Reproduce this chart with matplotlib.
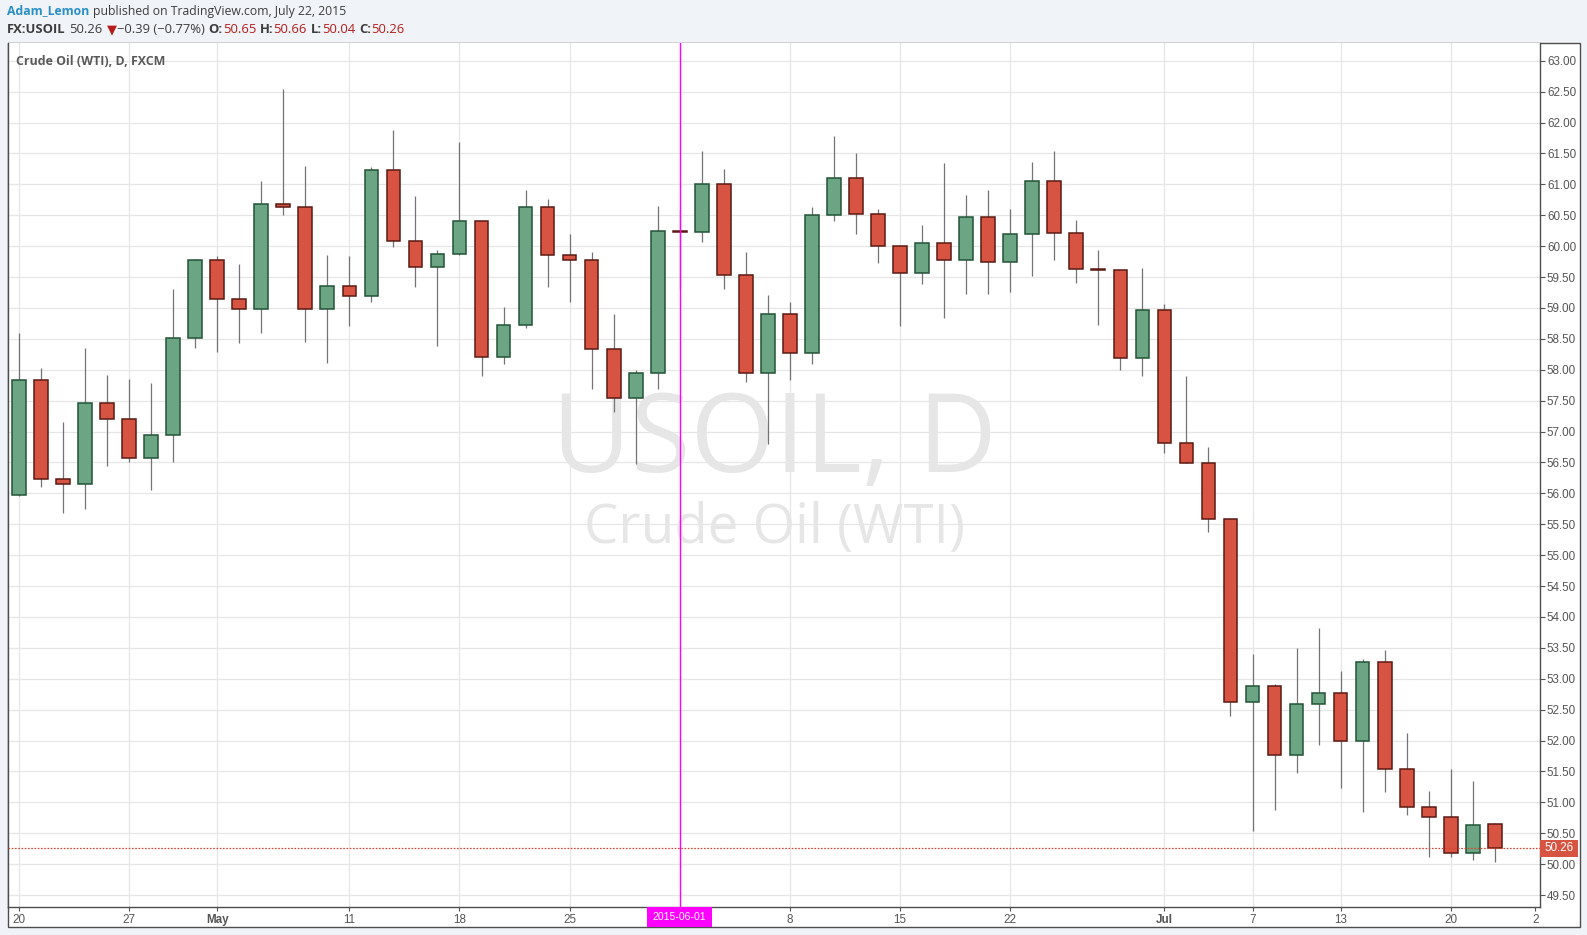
import matplotlib
matplotlib.use('Agg')
import matplotlib.pyplot as plt
from matplotlib.patches import Rectangle
from matplotlib import transforms

# ---------------- data ----------------
dates = ['2015-04-20', '2015-04-21', '2015-04-22', '2015-04-23', '2015-04-24',
         '2015-04-27', '2015-04-28', '2015-04-29', '2015-04-30', '2015-05-01',
         '2015-05-04', '2015-05-05', '2015-05-06', '2015-05-07', '2015-05-08',
         '2015-05-11', '2015-05-12', '2015-05-13', '2015-05-14', '2015-05-15',
         '2015-05-18', '2015-05-19', '2015-05-20', '2015-05-21', '2015-05-22',
         '2015-05-25', '2015-05-26', '2015-05-27', '2015-05-28', '2015-05-29',
         '2015-06-01', '2015-06-02', '2015-06-03', '2015-06-04', '2015-06-05',
         '2015-06-08', '2015-06-09', '2015-06-10', '2015-06-11', '2015-06-12',
         '2015-06-15', '2015-06-16', '2015-06-17', '2015-06-18', '2015-06-19',
         '2015-06-22', '2015-06-23', '2015-06-24', '2015-06-25', '2015-06-26',
         '2015-06-29', '2015-06-30', '2015-07-01', '2015-07-02', '2015-07-03',
         '2015-07-06', '2015-07-07', '2015-07-08', '2015-07-09', '2015-07-10',
         '2015-07-13', '2015-07-14', '2015-07-15', '2015-07-16', '2015-07-17',
         '2015-07-20', '2015-07-21', '2015-07-22']

opens = [55.97, 57.83, 56.24, 56.15, 57.47, 57.21, 56.57, 56.94, 58.52, 59.77,
         59.14, 58.98, 60.69, 60.63, 58.98, 59.35, 59.19, 61.24, 60.08, 59.67,
         59.87, 60.40, 58.21, 58.72, 60.63, 59.85, 59.77, 58.33, 57.54, 57.94,
         60.24, 60.23, 61.00, 59.54, 57.94, 58.90, 58.27, 60.50, 61.10, 60.52,
         60.00, 59.56, 60.05, 59.77, 60.48, 59.75, 60.19, 61.05, 60.22, 59.63,
         59.62, 58.19, 58.96, 56.81, 56.49, 55.58, 52.63, 52.88, 51.76, 52.59,
         52.77, 52.00, 53.27, 51.54, 50.92, 50.76, 50.18, 50.65]
highs = [58.60, 58.03, 57.15, 58.35, 57.92, 57.85, 57.79, 59.31, 59.80, 59.84,
         59.71, 61.05, 62.55, 61.30, 59.86, 59.84, 61.28, 61.88, 60.81, 59.94,
         61.69, 60.40, 59.02, 60.91, 60.76, 60.20, 59.91, 58.90, 58.00, 60.65,
         60.59, 61.54, 61.25, 59.91, 59.21, 59.10, 60.64, 61.78, 61.51, 60.60,
         60.00, 60.34, 61.35, 60.83, 60.91, 60.60, 61.36, 61.54, 60.42, 59.94,
         59.62, 59.65, 59.07, 57.90, 56.75, 55.58, 53.40, 52.91, 53.50, 53.82,
         53.13, 53.32, 53.47, 52.12, 51.18, 51.54, 51.35, 50.66]
lows = [55.95, 56.11, 55.69, 55.74, 56.45, 56.50, 56.06, 56.50, 58.36, 58.29,
        58.44, 58.60, 60.50, 58.45, 58.11, 58.71, 59.10, 59.99, 59.34, 58.39,
        59.85, 57.90, 58.09, 58.68, 59.34, 59.09, 57.69, 57.32, 56.48, 57.69,
        59.31, 60.06, 59.31, 57.81, 56.80, 57.84, 58.09, 60.41, 60.19, 59.72,
        58.71, 59.39, 58.84, 59.22, 59.22, 59.26, 59.52, 59.78, 59.41, 58.73,
        58.00, 57.90, 56.66, 56.49, 55.38, 52.39, 50.54, 50.88, 51.47, 51.93,
        51.24, 50.85, 51.17, 50.80, 50.12, 50.12, 50.07, 50.04]
closes = [57.83, 56.24, 56.15, 57.47, 57.21, 56.57, 56.94, 58.52, 59.77, 59.14,
          58.98, 60.69, 60.63, 58.98, 59.35, 59.19, 61.24, 60.08, 59.67, 59.87,
          60.40, 58.21, 58.72, 60.63, 59.85, 59.77, 58.33, 57.54, 57.94, 60.24,
          60.23, 61.00, 59.54, 57.94, 58.90, 58.27, 60.50, 61.10, 60.52, 60.00,
          59.56, 60.05, 59.77, 60.48, 59.75, 60.19, 61.05, 60.22, 59.63, 59.62,
          58.19, 58.96, 56.81, 56.49, 55.58, 52.63, 52.88, 51.76, 52.59, 52.77,
          52.00, 53.27, 51.54, 50.92, 50.76, 50.18, 50.63, 50.26]

tick_dates = ['2015-04-20', '2015-04-27', '2015-05-01', '2015-05-11', '2015-05-18',
              '2015-05-25', '2015-06-08', '2015-06-15', '2015-06-22', '2015-07-01',
              '2015-07-07', '2015-07-13', '2015-07-20']
tick_labels = ['20', '27', 'May', '11', '18', '25', '8', '15', '22', 'Jul', '7', '13', '20']
bold_labels = ['May', 'Jul']
marked_date = '2015-06-01'
last_price = 50.26
y_ticks = [49.5 + 0.5 * k for k in range(28)]

# ---------------- style ----------------
W, H = 1587, 935
UP_FILL, UP_EDGE = '#6ba583', '#225437'
DN_FILL, DN_EDGE = '#d75442', '#5b1a13'
WICK = '#737375'
GRID = '#e6e6e6'
AXC = '#555555'
BG = '#f0f3f7'
MAGENTA = '#ff00ff'

fig = plt.figure(figsize=(W / 100, H / 100), dpi=100, facecolor=BG)

# panel (white with border)
px0, px1, py0, py1 = 8, 1580, 43, 927
fig.patches.append(Rectangle((px0 / W, 1 - py1 / H), (px1 - px0) / W, (py1 - py0) / H,
                             transform=fig.transFigure, facecolor='white',
                             edgecolor='#4d4d4d', lw=1.0, zorder=-5))

ax_l, ax_r, ax_t, ax_b = 8, 1540, 43, 907
ax = fig.add_axes([ax_l / W, 1 - ax_b / H, (ax_r - ax_l) / W, (ax_b - ax_t) / H])
ax.set_facecolor('white')

idx = list(range(len(dates)))
pos = {d: i for i, d in enumerate(dates)}

# grid
for t in y_ticks:
    ax.axhline(t, color=GRID, lw=0.9, zorder=0)
grid_x = [pos[d] for d in tick_dates] + [pos[marked_date]]
for gx in grid_x:
    ax.axvline(gx, color=GRID, lw=0.9, zorder=0)

# watermark
wm1 = ax.text(0.5, 0.5, 'USOIL, D', transform=ax.transAxes, ha='center', va='center',
              fontsize=80, color='#e6e6e6', family='Open Sans', zorder=0.5)
wm2 = ax.text(0.5, 0.5, 'Crude Oil (WTI)', transform=ax.transAxes, ha='center', va='center',
              fontsize=40, color='#e6e6e6', family='Open Sans', zorder=0.5)

# candles
bw = 0.62
for i in idx:
    o, h, l, c = opens[i], highs[i], lows[i], closes[i]
    up = c > o
    fc, ec = (UP_FILL, UP_EDGE) if up else (DN_FILL, DN_EDGE)
    ax.vlines(i, l, h, color=WICK, lw=0.9, zorder=2)
    lo, hi = min(o, c), max(o, c)
    hgt = max(hi - lo, 0.012)
    ax.add_patch(Rectangle((i - bw / 2, lo), bw, hgt, facecolor=fc, edgecolor=ec,
                           lw=1.1, zorder=3))

# marked date vertical line
ax.axvline(pos[marked_date], color=MAGENTA, lw=1.0, zorder=4)

# last price dotted line
ax.axhline(last_price, color='#e0402e', lw=0.9, ls=(0, (1.3, 1.3)), zorder=4)

# limits
x_left = -0.495
x_right = 69.05
ax.set_xlim(x_left, x_right)
ax.set_ylim(49.307, 63.288)

# spines
for s in ['left', 'bottom', 'right']:
    ax.spines[s].set_color('#4d4d4d')
    ax.spines[s].set_linewidth(1.0)
ax.spines['top'].set_visible(False)

# y axis on right
ax.yaxis.tick_right()
ax.set_yticks(y_ticks)
ax.set_yticklabels(['%.2f' % t for t in y_ticks])
ax.tick_params(axis='y', which='both', length=3.5, width=0.8, color=AXC, pad=1.5,
               labelsize=8.4, labelcolor='#555555')
for lab in ax.get_yticklabels():
    lab.set_family('Liberation Sans')

# x axis
xt = [pos[d] for d in tick_dates] + [x_right - 0.22]
xl = tick_labels + ['2']
ax.set_xticks(xt)
ax.set_xticklabels(xl)
ax.tick_params(axis='x', which='both', length=3, width=0.8, color=AXC, pad=2,
               labelsize=8.4, labelcolor='#555555')
for lab in ax.get_xticklabels():
    lab.set_family('Liberation Sans')
    if lab.get_text() in bold_labels:
        lab.set_fontweight('bold')

# price label on right axis
blend = transforms.blended_transform_factory(ax.transAxes, ax.transData)
lab_w = 38 / (ax_r - ax_l)
lab_h = 17 / 61.8
ax.add_patch(Rectangle((1.0, last_price - lab_h / 2), lab_w, lab_h, transform=blend,
                       facecolor='#d75442', edgecolor='none', clip_on=False, zorder=6))
ax.text(1.0 + lab_w / 2, last_price, '%.2f' % last_price, transform=blend, ha='center',
        va='center', color='white', fontsize=8.4, family='Liberation Sans',
        clip_on=False, zorder=7)

# marked date label at bottom
blend2 = transforms.blended_transform_factory(ax.transData, ax.transAxes)
mw = 65 / 22.03
mh = 20 / (ax_b - ax_t)
mx = pos[marked_date]
ax.add_patch(Rectangle((mx - mw / 2, -mh), mw, mh, transform=blend2, facecolor=MAGENTA,
                       edgecolor='none', clip_on=False, zorder=6))
ax.text(mx, -mh / 2, marked_date, transform=blend2, ha='center', va='center',
        color='white', fontsize=7.6, family='Liberation Sans', clip_on=False, zorder=7)

# series title in plot
title = fig.text(16 / W, 1 - 61.5 / H, 'Crude Oil (WTI), D, FXCM', ha='left', va='center',
                 fontsize=8.0, fontweight='bold', color='#5a5a5a', family='Open Sans')

# ---------- header and watermark fitting ----------
fig.canvas.draw()
renderer = fig.canvas.get_renderer()


def fit_width(t, target_px):
    bb = t.get_window_extent(renderer)
    t.set_fontsize(t.get_fontsize() * target_px / bb.width)


fit_width(wm1, 445)
fit_width(wm2, 380)
fit_width(title, 150)
wm1.set_position((0.5, 1 - (443 - ax_t) / (ax_b - ax_t)))
wm2.set_position((0.5, 1 - (529 - ax_t) / (ax_b - ax_t)))


def seq_text(x0, y, pieces, size):
    x = x0
    made = []
    for s, color, weight in pieces:
        if s == ' ':
            x += size * 0.42
            continue
        t = fig.text(x / W, 1 - y / H, s, ha='left', va='center', color=color,
                     fontweight=weight, fontsize=size,
                     family=['Open Sans', 'DejaVu Sans'])
        bb = t.get_window_extent(renderer)
        x += bb.width
        made.append(t)
    return made, x - x0


def fitted_line(x0, y, pieces, target_w, size=9.0):
    made, w = seq_text(x0, y, pieces, size)
    for t in made:
        t.remove()
    seq_text(x0, y, pieces, size * target_w / w)


DARK = '#3d3d3d'
RED = '#b71c1c'
fitted_line(7, 11, [('Adam_Lemon', '#2a8fc7', 'bold'), (' ', None, None),
                    ('published on TradingView.com, July 22, 2015', DARK, 'normal')], 341)
fitted_line(7, 29.5, [('FX:USOIL', DARK, 'bold'), (' ', None, None),
                      ('50.26', DARK, 'normal'), (' ', None, None),
                      ('\u25BC', RED, 'normal'),
                      ('\u22120.39 (\u22120.77%)', DARK, 'normal'), (' ', None, None),
                      ('O:', DARK, 'bold'), ('50.65', RED, 'normal'), (' ', None, None),
                      ('H:', DARK, 'bold'), ('50.66', RED, 'normal'), (' ', None, None),
                      ('L:', DARK, 'bold'), ('50.04', RED, 'normal'), (' ', None, None),
                      ('C:', DARK, 'bold'), ('50.26', RED, 'normal')], 397)

fig.savefig('out.png', dpi=100, facecolor=BG)
